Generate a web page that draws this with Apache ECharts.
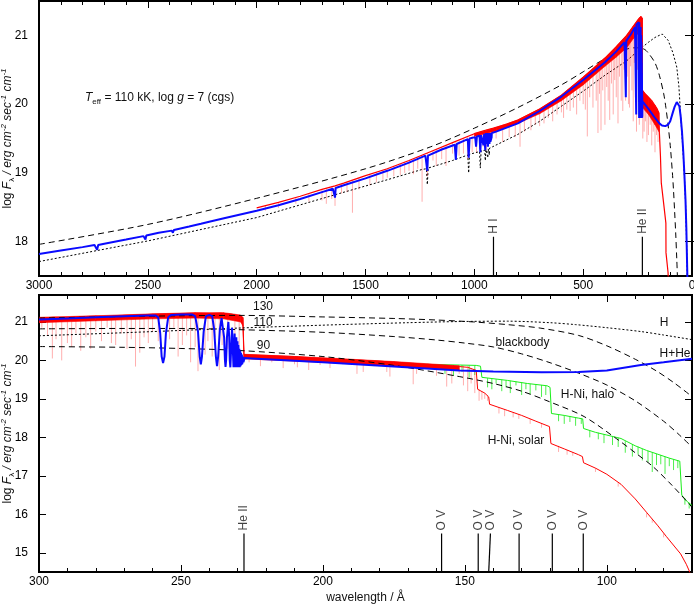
<!DOCTYPE html>
<html><head><meta charset="utf-8">
<script src="https://cdn.jsdelivr.net/npm/echarts@6/dist/echarts.min.js"></script>
<style>html,body{margin:0;padding:0;background:#fff}#c{width:694px;height:604px}</style>
</head><body><div id="c"></div>
<script>
// ================= TOP PANEL DATA (wavelength in Å, log F) =================
const topBlue = [[3000,17.82],[2900,17.87],[2800,17.92],[2745,17.95],[2738,17.94],[2733,17.88],[2728,17.95],[2700,17.97],[2600,18.03],[2520,18.08],[2514,18.07],[2511,18.03],[2507,18.09],[2450,18.13],[2390,18.16],[2385,18.13],[2380,18.17],[2310,18.22],[2306,18.20],[2302,18.23],[2256,18.26],[2253,18.24],[2250,18.27],[2218,18.29],[2216,18.28],[2214,18.30],[2150,18.34],[2000,18.45],[1900,18.53],[1800,18.62],[1700,18.72],[1650,18.77],[1643,18.76],[1640,18.64],[1637,18.78],[1600,18.82],[1500,18.92],[1400,19.03],[1300,19.15],[1225,19.25],[1219,19.24],[1216,19.03],[1213,19.25],[1150,19.34],[1090,19.41],[1085,19.19],[1081,19.42],[1030,19.49],[1026,19.22],[1022,19.50],[996,19.52],[992,19.38],[988,19.53],[976,19.54],[972.5,19.30],[969,19.55],[961,19.56],[958,19.40],[955,19.57],[952,19.57],[949.7,19.33],[947,19.58],[944,19.58],[942,19.42],[940,19.58],[938.5,19.58],[937.5,19.38],[935,19.58],[931.5,19.58],[930.5,19.42],[928,19.58],[926.5,19.58],[925.8,19.45],[924,19.58],[923.2,19.47],[922,19.58],[920.9,19.50],[919.5,19.58],[900,19.60],[800,19.72],[700,19.90],[600,20.11],[500,20.35],[400,20.61],[350,20.76],[310,20.90],[306,20.91],[304,20.10],[302,20.92],[280,21.02],[262,21.12],[257.5,21.14],[256.3,19.85],[255,21.16],[245,21.19],[244,21.19],[243,19.80],[242,21.19],[238,21.18],[237.3,19.80],[236,21.12],[234.3,19.80],[233.3,21.00],[232.6,19.80],[232,20.90],[231.5,19.80],[231.1,20.75],[230.8,19.80],[230.5,20.60],[230.3,19.80],[230.1,20.45],[229.9,19.80],[229.7,20.35],[229.5,19.80],[229.2,20.20],[229.0,19.80],[228.6,20.10],[228.3,19.82],[228,20.04],[220,20.01],[200,19.93],[175,19.82],[150,19.72],[138,19.69],[123,19.68],[110,19.70],[100,19.75],[88,19.88],[80,19.96],[70,20.03],[64,20.05],[58,19.97],[52,19.82],[46,19.60],[40,19.30],[35,18.98],[30,18.62],[26,18.20],[22,17.60],[20,17.25]];
const topRed = [[2000,18.49],[1900,18.57],[1800,18.66],[1700,18.76],[1640,18.81],[1600,18.85],[1500,18.96],[1400,19.06],[1300,19.18],[1216,19.29],[1100,19.44],[1000,19.57],[950,19.62],[912,19.65],[850,19.71],[800,19.77],[700,19.93],[600,20.13],[500,20.39],[450,20.53],[400,20.67],[350,20.83],[300,21.00],[275,21.11],[250,21.22],[240,21.26],[232,21.28],[229,21.25],[228,20.20],[215,20.15],[200,20.10],[185,20.05],[170,19.98],[160,19.93],[152,19.87],[150,19.60],[145,19.25],[141,18.85],[130,18.55],[120,18.27],[119.5,17.84],[110,17.55],[108,17.35],[100,17.05],[90,16.35]];
const topRedBand = [[1000,19.57,19.53],[900,19.66,19.61],[800,19.77,19.72],[700,19.93,19.86],[600,20.13,20.05],[500,20.39,20.28],[400,20.67,20.55],[350,20.83,20.68],[300,21.00,20.82],[270,21.13,20.95],[250,21.22,21.02],[235,21.28,21.05],[229,21.25,20.90],[228,20.20,19.95],[200,20.10,19.85],[170,19.98,19.70],[152,19.87,19.60]];
const topRedLines = [[1960,18.52,18.45],[1900,18.57,18.49],[1820,18.64,18.55],[1760,18.70,18.58],[1700,18.76,18.60],[1680,18.78,18.55],[1655,18.80,18.62],[1640,18.81,18.52],[1610,18.84,18.70],[1585,18.87,18.72],[1560,18.89,18.42],[1530,18.92,18.76],[1480,18.98,18.82],[1450,19.01,18.86],[1420,19.04,18.90],[1400,19.06,18.93],[1370,19.10,18.95],[1340,19.13,18.97],[1320,19.16,19.00],[1300,19.18,19.03],[1280,19.20,18.98],[1260,19.23,19.06],[1240,19.25,18.58],[1216,19.29,18.95],[1190,19.32,19.18],[1175,19.34,19.10],[1150,19.37,19.20],[1130,19.40,19.10],[1100,19.44,19.28],[1085,19.45,19.20],[1070,19.47,19.25],[1050,19.50,19.28],[1030,19.52,19.20],[1010,19.55,19.30],[990,19.58,19.30],[975,19.59,19.35],[960,19.60,19.38],[945,19.62,19.33],[930,19.63,19.45],[900,19.66,19.50],[870,19.69,19.45],[840,19.72,19.52],[812,19.75,19.52],[790,19.78,19.38],[770,19.81,19.60],[740,19.86,19.62],[720,19.89,19.70],[700,19.93,19.68],[680,19.96,19.72],[660,20.00,19.80],[640,20.04,19.75],[620,20.08,19.85],[600,20.13,19.88],[590,20.15,19.80],[575,20.18,19.92],[560,20.22,19.90],[545,20.26,19.95],[530,20.30,19.85],[515,20.34,20.05],[500,20.39,20.00],[490,20.41,19.92],[481,20.43,19.53],[470,20.46,20.10],[455,20.51,19.95],[440,20.55,20.05],[432,20.57,19.58],[425,20.59,20.15],[418,20.61,19.62],[410,20.63,20.20],[400,20.67,19.70],[392,20.70,20.25],[385,20.72,20.05],[378,20.74,19.77],[370,20.76,20.30],[362,20.79,19.85],[355,20.81,20.35],[348,20.84,20.10],[340,20.87,19.72],[333,20.89,20.40],[325,20.92,20.05],[318,20.94,19.90],[312,20.96,20.50],[305,20.98,20.05],[298,21.01,20.40],[292,21.03,20.00],[287,21.05,19.95],[282,21.07,20.55],[276,21.10,20.20],[270,21.13,19.75],[265,21.15,20.60],[260,21.17,20.10],[255,21.19,19.60],[250,21.22,20.50],[246,21.24,20.20],[242,21.25,19.70],[238,21.27,20.30],[234,21.28,19.80],[231,21.27,20.00],[226,20.20,19.50],[220,20.17,19.60],[214,20.15,19.75],[207,20.13,19.45],[200,20.10,19.55],[192,20.08,19.70],[185,20.05,19.40],[178,20.02,19.60],[170,19.98,19.30],[163,19.95,19.55],[156,19.90,19.45]];
const topBB110 = [[3000,17.96],[2500,18.25],[2000,18.63],[1500,19.06],[1200,19.38],[1000,19.65],[800,19.95],[600,20.28],[500,20.47],[400,20.66],[300,20.80],[260,20.82],[220,20.80],[200,20.74],[170,20.60],[150,20.42],[130,20.15],[120,19.95],[110,19.70],[100,19.40],[90,19.00],[85,18.75],[80,18.45],[75,18.13],[70,17.75],[66,17.40]];
const topH = [[3000,17.71],[2500,18.01],[2000,18.35],[1620,18.70],[1400,18.90],[1240,19.05],[1220,19.06],[1216,18.83],[1212,19.07],[1100,19.18],[1030,19.26],[1026,19.00],[1022,19.27],[976,19.31],[972.5,19.07],[969,19.32],[952,19.33],[949.7,19.18],[947,19.34],[939,19.35],[937.8,19.22],[936.5,19.35],[931,19.36],[930.7,19.26],[930,19.36],[916,19.38],[800,19.56],[700,19.75],[600,19.97],[495,20.20],[400,20.42],[300,20.63],[243,20.79],[200,20.90],[170,20.97],[137,21.02],[110,20.93],[88,20.75],[70,20.54],[60,20.25],[52,19.82],[46,19.55],[40,19.25],[35,18.95],[30,18.60],[26,18.15],[22,17.55],[20,17.20]];
const topMarkWave = [912, 228];
const topMarkText = ['H I', 'He II'];
const topMarkSpan = [18.07, 17.5];
const topYTicks = [18, 19, 20, 21];

// ================= BOTTOM PANEL DATA =================
const botBlue = [[300,21.06],[290,21.09],[280,21.12],[270,21.15],[262,21.17],[259,21.17],[258,21.12],[257.3,20.70],[256.8,20.10],[256.3,19.93],[255.8,20.10],[255.3,20.70],[254.5,21.12],[253.5,21.18],[250,21.19],[246,21.19],[245,21.15],[244,20.75],[243.4,20.10],[243.0,19.90],[242.6,20.10],[242.0,20.75],[241.2,21.15],[240,21.18],[239,21.15],[238.3,20.80],[237.7,20.10],[237.3,19.85],[236.9,20.10],[236.3,20.80],[235.7,21.10],[235.2,21.10],[234.8,20.60],[234.5,20.00],[234.3,19.83],[234.1,20.00],[233.8,20.60],[233.3,21.00],[233.0,20.60],[232.8,20.00],[232.6,19.82],[232.0,20.85],[231.5,19.82],[231.1,20.70],[230.8,19.82],[230.5,20.60],[230.3,19.82],[230.1,20.50],[229.9,19.82],[229.75,20.40],[229.6,19.82],[229.45,20.30],[229.3,19.82],[229.15,20.25],[229.0,19.85],[228.85,20.20],[228.7,19.88],[228.55,20.15],[228.4,19.90],[228.2,20.10],[228.0,19.95],[227.6,20.06],[225,20.05],[200,19.95],[175,19.84],[152,19.74],[140,19.71],[123,19.69],[110,19.70],[100,19.74],[88,19.88],[80,19.95],[70,20.04]];
const botRed = [[300,21.10],[295,21.12],[290,21.11],[285,21.14],[280,21.15],[275,21.14],[270,21.17],[265,21.18],[260,21.20],[255,21.21],[250,21.22],[245,21.23],[240,21.22],[236,21.23],[232,21.20],[229,21.15],[228.2,21.10],[227.8,20.15],[220,20.13],[210,20.10],[200,20.05],[190,20.02],[180,19.98],[170,19.93],[160,19.87],[152,19.84],[149,19.82],[146,19.74],[145.5,19.25],[143,19.15],[141.6,19.05],[141.3,18.86],[135,18.70],[130,18.57],[125,18.42],[120.2,18.28],[119.7,17.84],[115,17.70],[110,17.55],[108.6,17.50],[108.2,17.34],[104,17.20],[100,17.04],[95,16.78],[90,16.40],[86,16.05],[82,15.70],[79,15.42],[76,15.15],[74,14.97],[72,14.70],[70.5,14.45]];
const botRedBand = [[300,21.12,20.98],[280,21.16,21.03],[260,21.21,21.08],[245,21.24,21.10],[235,21.24,21.08],[229,21.18,21.00],[228.2,21.12,20.90],[227.8,20.16,20.04],[200,20.07,19.95],[175,19.97,19.85],[152,19.86,19.75]];
const botRedLines = [[299,21.10,20.85],[297,21.11,20.65],[295.3,21.12,20.05],[294,21.12,20.55],[292,21.11,20.00],[290,21.11,20.45],[288.5,21.12,20.35],[287,21.13,20.70],[285.3,21.14,20.25],[283.5,21.14,20.60],[281.8,21.15,20.30],[280,21.15,20.75],[278,21.15,20.50],[276,21.14,20.85],[274.5,21.14,20.45],[273,21.15,20.40],[271,21.16,20.70],[269,21.17,20.30],[267.5,21.17,20.55],[266,21.18,19.84],[264.5,21.18,20.20],[263,21.19,20.60],[261.5,21.19,20.45],[260,21.20,20.75],[258,21.20,20.50],[254,21.21,20.55],[252.5,21.21,20.85],[251,21.22,20.10],[249.5,21.22,20.40],[248,21.22,20.65],[246.6,21.23,19.95],[245,21.23,20.35],[244,21.23,19.72],[241.5,21.22,20.15],[240.5,21.22,20.50],[239,21.22,20.10],[238,21.22,20.60],[236.5,21.23,19.75],[235.5,21.23,20.40],[233.5,21.22,20.30],[231,21.18,20.20],[229.5,21.15,20.40],[226,20.14,19.95],[222,20.13,19.85],[218,20.12,19.95],[214,20.11,19.80],[210,20.10,19.90],[209,20.10,19.82],[205,20.07,19.75],[201,20.06,19.88],[197.5,20.04,19.80],[193,20.03,19.90],[188,20.01,19.65],[185.8,20.00,19.70],[182,19.99,19.85],[177.5,19.97,19.70],[176.4,19.97,19.58],[172,19.96,19.80],[168.2,19.94,19.38],[167,19.93,19.65],[163,19.92,19.78],[160,19.90,19.60],[156.4,19.88,19.32],[154.6,19.88,19.40],[152,19.87,19.65],[150.5,19.86,19.35],[149,19.85,19.20],[147.8,19.80,19.40],[146.5,19.76,19.15],[145,19.25,18.95],[144,19.20,18.98],[143,19.15,19.00],[142,19.10,18.95],[138,18.78,18.62],[136,18.73,18.55],[133,18.65,18.52],[131,18.60,18.48],[127,18.48,18.35],[123,18.37,18.25],[117,17.78,17.62],[114,17.67,17.55],[112,17.62,17.52],[104,17.20,17.10],[96,16.83,16.72],[86,16.05,15.92],[84,15.88,15.78],[80,15.50,15.40]];
const botGreen = [[165,19.90],[160,19.89],[152,19.88],[146,19.87],[144.5,19.85],[144,19.56],[135,19.48],[128,19.40],[121,19.34],[120,19.30],[119.5,18.62],[115,18.57],[110,18.50],[108.5,18.48],[108.2,18.23],[104,18.13],[100,18.06],[95,17.97],[90,17.78],[86,17.66],[82,17.56],[78,17.46],[74.3,17.38],[73.6,16.50],[72,16.35],[70,16.23]];
const botGreenLines = [[157,19.88,19.65],[154,19.88,19.60],[151,19.88,19.70],[148.5,19.87,19.55],[146.5,19.87,19.62],[142,19.54,19.30],[140.5,19.52,19.25],[139,19.51,19.40],[137,19.50,19.20],[135.5,19.48,19.30],[134,19.47,19.15],[132,19.45,19.35],[130,19.43,19.10],[128.5,19.41,19.25],[127,19.39,19.12],[125,19.37,19.22],[123,19.36,19.05],[121.5,19.34,19.10],[117,18.59,18.42],[115,18.57,18.35],[113,18.55,18.40],[111,18.52,18.30],[109,18.49,18.35],[106,18.18,18.00],[103,18.12,17.95],[101,18.08,17.85],[98,18.03,17.80],[96,17.99,17.75],[93.5,17.90,17.60],[91,17.82,17.50],[89,17.76,17.55],[87.5,17.70,17.40],[85.5,17.65,17.35],[84,17.61,17.10],[82.5,17.57,17.28],[81,17.54,17.30],[79.5,17.50,17.05],[78,17.46,17.25],[76.5,17.43,17.15],[75,17.40,17.20],[72.5,16.42,16.25],[71,16.30,16.15]];
const botBB130 = [[300,21.10],[270,21.14],[250,21.16],[230,21.17],[200,21.13],[175,21.09],[160,21.05],[147,21.00],[135,20.93],[123.5,20.84],[110,20.65],[100,20.38],[90,20.03],[82.4,19.72],[76,19.40],[70,19.06]];
const botBB110 = [[300,20.82],[270,20.83],[250,20.83],[230,20.80],[200,20.73],[175,20.62],[160,20.53],[150,20.45],[140,20.35],[130,20.17],[120,19.94],[110,19.67],[100,19.36],[90,18.95],[80,18.42],[75,18.10],[70,17.75]];
const botBB90 = [[300,20.36],[270,20.34],[250,20.31],[230,20.26],[200,20.10],[175,19.87],[152,19.58],[140,19.40],[130,19.20],[120,18.92],[108,18.54],[96.5,17.96],[90,17.60],[83.6,17.23],[77,16.75],[71,16.27],[70,16.18]];
const botH = [[300,20.64],[270,20.72],[243,20.80],[230,20.84],[194,20.93],[170,20.98],[152,21.01],[135,21.02],[120,20.98],[111,20.93],[100,20.85],[88,20.75],[80,20.66],[70,20.54]];
const botMarkWave = [227.8, 158.2, 145.3, 141.0, 130.9, 119.2, 108.3];
const botMarkFoot = [227.8, 158.2, 145.3, 141.6, 130.9, 119.2, 108.3];
const botMarkText = ['He II', 'O V', 'O V', 'O V', 'O V', 'O V', 'O V'];
const botMarkSpan = [15.5, 14.5];
const botYTicks = [15, 16, 17, 18, 19, 20, 21];
const botXMajor = [100, 150, 200, 250];

// ================= CHART =================
const FONT = '"Liberation Sans", Arial, Helvetica, sans-serif';
const TXT = '#111';
const BLUE = '#0a0aff', RED = '#ff0000', GREEN = '#1aee1a';
const chart = echarts.init(document.getElementById('c'));

function line(data, xi, yi, color, width, type, z, smooth) {
  return {type: 'line', xAxisIndex: xi, yAxisIndex: yi, data: data, showSymbol: false, symbol: 'none',
    lineStyle: {color: color, width: width, type: type || 'solid'}, z: z, smooth: smooth || false,
    clip: true, silent: true, animation: false};
}
function spikes(data, xi, yi, color, z) {
  return {type: 'custom', xAxisIndex: xi, yAxisIndex: yi, data: data, clip: true, z: z, silent: true,
    encode: {x: 0, y: [1, 2]}, animation: false,
    renderItem: function (p, api) {
      const a = api.coord([api.value(0), api.value(1)]);
      const b = api.coord([api.value(0), api.value(2)]);
      return {type: 'line', shape: {x1: a[0], y1: a[1], x2: b[0], y2: b[1]}, style: {stroke: color, lineWidth: 1}};
    }};
}
function band(data, xi, yi, color, z) {
  return {type: 'custom', xAxisIndex: xi, yAxisIndex: yi, data: data, clip: true, z: z, silent: true,
    encode: {x: 0, y: [1, 2]}, animation: false,
    renderItem: function (p, api) {
      const i = p.dataIndex;
      if (i >= data.length - 1) return null;
      const a = data[i], b = data[i + 1];
      const pts = [api.coord([a[0], a[1]]), api.coord([b[0], b[1]]), api.coord([b[0], b[2]]), api.coord([a[0], a[2]])];
      return {type: 'polygon', shape: {points: pts}, style: {fill: color, stroke: color, lineWidth: 0.6}};
    }};
}
function markers(waves, feet, texts, span, xi, yi) {
  const out = [];
  waves.forEach(function (w, i) {
    out.push(line([[w, span[0]], [feet[i], span[1]]], xi, yi, '#000', 1.2, 'solid', 6));
  });
  out.push({type: 'scatter', xAxisIndex: xi, yAxisIndex: yi, symbolSize: 0, z: 7, silent: true, animation: false,
    data: waves.map(function (w, i) { return {value: [w, span[0]], name: texts[i]}; }),
    label: {show: true, formatter: '{b}', rotate: 90, position: 'top', distance: 3, align: 'left',
      verticalAlign: 'middle', color: TXT, fontSize: 12, fontFamily: FONT}});
  return out;
}

const tickStyle = {color: '#000', width: 1};
const richName = {
  a: {fontSize: 12, fontFamily: FONT, color: TXT, lineHeight: 16},
  i: {fontSize: 12, fontFamily: FONT, color: TXT, fontStyle: 'italic', lineHeight: 16},
  s: {fontSize: 8, fontFamily: FONT, color: TXT, lineHeight: 16, verticalAlign: 'bottom'},
  p: {fontSize: 8, fontFamily: FONT, color: TXT, fontStyle: 'italic', lineHeight: 16, verticalAlign: 'top'}
};
const yName = '{a|log }{i|F}{s|λ}{i| / erg cm}{p|-2}{i| sec}{p|-1}{i| cm}{p|-1}';

function xTop(grid, min, max, interval, minor, showLabel, pos, fmt, custom, len) {
  const ax = {gridIndex: grid, type: 'value', position: pos, min: min, max: max, inverse: true,
    axisLine: {show: false}, splitLine: {show: false},
    axisTick: {show: true, inside: true, length: len, lineStyle: tickStyle},
    axisLabel: {show: showLabel, margin: 4, color: '#000', fontSize: 12, fontFamily: FONT,
      showMinLabel: true, showMaxLabel: true, formatter: fmt}};
  if (interval) ax.interval = interval;
  if (minor) ax.minorTick = {show: true, splitNumber: minor, length: 4, lineStyle: tickStyle};
  if (custom) { ax.axisTick.customValues = custom; ax.axisLabel.customValues = custom; }
  return ax;
}
function yAx(grid, min, max, ticks, pos, showLabel, withName) {
  const ax = {gridIndex: grid, type: 'value', position: pos, min: min, max: max,
    axisLine: {show: false}, splitLine: {show: false},
    axisTick: {show: true, inside: true, length: 7, lineStyle: tickStyle, customValues: ticks},
    axisLabel: {show: showLabel, customValues: ticks, margin: 11, color: '#000', fontSize: 12, fontFamily: FONT}};
  if (withName) {
    ax.name = yName; ax.nameLocation = 'middle'; ax.nameRotate = 90; ax.nameGap = 23;
    ax.nameMoveOverlap = false;
    ax.nameTextStyle = {fontFamily: FONT, fontSize: 12, color: TXT, rich: richName};
  }
  return ax;
}

const series = [];
// top panel
series.push(line(topBB110, 0, 0, '#000', 1, [6, 4], 3, 0.3));
series.push(line(topH, 0, 0, '#000', 1, [2, 2], 3));
series.push(spikes(topRedLines, 0, 0, 'rgba(255,0,0,0.32)', 4));
series.push(band(topRedBand, 0, 0, RED, 4));
series.push(line(topRed, 0, 0, RED, 1.2, 'solid', 4));
series.push(line(topBlue, 0, 0, BLUE, 2, 'solid', 5));
markers(topMarkWave, topMarkWave, topMarkText, topMarkSpan, 0, 0).forEach(function (s) { series.push(s); });
// bottom panel
series.push(spikes(botGreenLines, 2, 2, 'rgba(20,235,20,0.75)', 3));
series.push(line(botGreen, 2, 2, GREEN, 1, 'solid', 3));
series.push(spikes(botRedLines, 2, 2, 'rgba(255,0,0,0.32)', 4));
series.push(band(botRedBand, 2, 2, RED, 4));
series.push(line(botRed, 2, 2, RED, 1, 'solid', 4));
series.push(line(botBB130, 2, 2, '#000', 1, [6, 4], 4.5, 0.3));
series.push(line(botBB110, 2, 2, '#000', 1, [6, 4], 4.5, 0.3));
series.push(line(botBB90, 2, 2, '#000', 1, [6, 4], 4.5, 0.3));
series.push(line(botH, 2, 2, '#000', 1, [2, 2], 4.5, 0.3));
series.push(line(botBlue, 2, 2, BLUE, 2, 'solid', 5));
markers(botMarkWave, botMarkFoot, botMarkText, botMarkSpan, 2, 2).forEach(function (s) { series.push(s); });

const t = function (text, x, y) {
  return {type: 'text', x: x, y: y, z: 100, style: {text: text, fill: TXT, font: '12px ' + FONT, align: 'center', verticalAlign: 'middle'}};
};

chart.setOption({
  animation: false,
  backgroundColor: '#fff',
  grid: [
    {left: 39, top: 1, width: 653, height: 275, show: true, borderColor: '#000', borderWidth: 2, backgroundColor: 'transparent', containLabel: false, outerBoundsMode: 'none'},
    {left: 39, top: 295, width: 653, height: 277, show: true, borderColor: '#000', borderWidth: 2, backgroundColor: 'transparent', containLabel: false, outerBoundsMode: 'none'}
  ],
  xAxis: [
    xTop(0, 0, 3000, 500, 5, true, 'bottom', function (v) { return String(v); }, null, 7),
    xTop(0, 0, 3000, 500, 5, false, 'top', null, null, 7),
    Object.assign(xTop(1, 70, 300, 10, 0, true, 'bottom', function (v) { return v % 50 === 0 ? String(v) : ''; }, null, 4),
      {name: 'wavelength / Å', nameLocation: 'middle', nameGap: 20, nameMoveOverlap: false, nameTextStyle: {fontFamily: FONT, fontSize: 12, color: TXT}}),
    xTop(1, 70, 300, 0, 0, false, 'bottom', null, botXMajor, 7),
    xTop(1, 70, 300, 10, 0, false, 'top', null, null, 4),
    xTop(1, 70, 300, 0, 0, false, 'top', null, botXMajor, 7)
  ],
  yAxis: [
    yAx(0, 17.5, 21.5, topYTicks, 'left', true, true),
    yAx(0, 17.5, 21.5, topYTicks, 'right', false, false),
    yAx(1, 14.5, 21.7, botYTicks, 'left', true, true),
    yAx(1, 14.5, 21.7, botYTicks, 'right', false, false)
  ],
  series: series,
  graphic: [
    {type: 'text', left: 85, top: 92, z: 100, style: {
      text: '{i|T}{s|eff}{a| = 110 kK, log }{i|g}{a| = 7 (cgs)}', rich: richName, fill: TXT, font: '12px ' + FONT}},
    t('130', 263, 307), t('110', 263, 322.5), t('90', 263.5, 346),
    t('H', 664, 322.5), t('H+He', 675, 354), t('blackbody', 522.5, 343),
    t('H-Ni, halo', 587.5, 395), t('H-Ni, solar', 516, 441)
  ]
});
</script></body></html>
